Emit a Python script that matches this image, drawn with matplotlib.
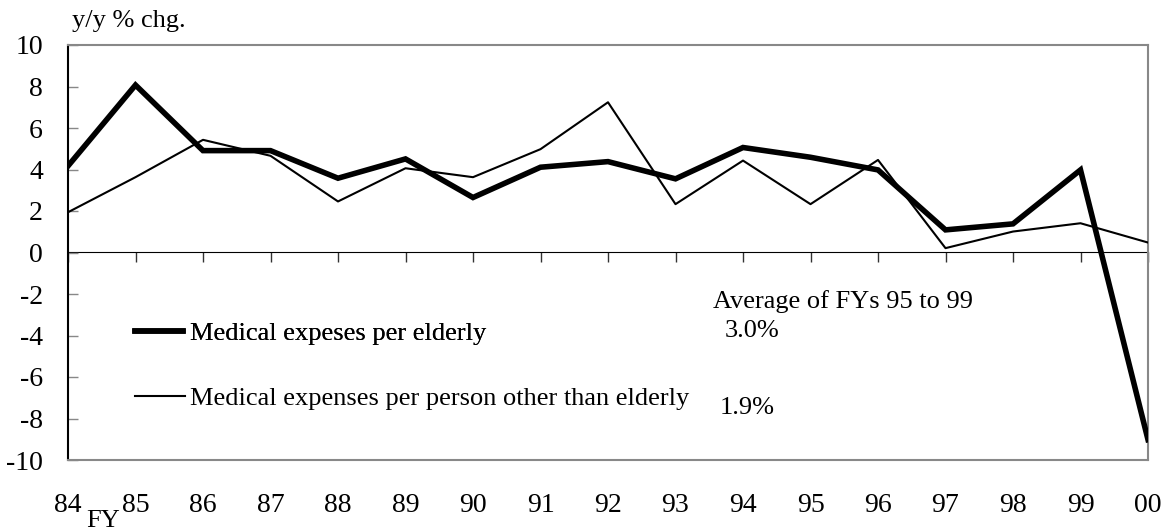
import matplotlib
matplotlib.use("Agg")
import matplotlib.pyplot as plt
from matplotlib.lines import Line2D

plt.rcParams['font.family'] = ['Liberation Serif', 'DejaVu Serif']
plt.rcParams['axes.unicode_minus'] = False

# Fiscal years and y/y % change
years = ["84", "85", "86", "87", "88", "89", "90", "91", "92",
         "93", "94", "95", "96", "97", "98", "99", "00"]
elderly = [4.17, 8.07, 4.91, 4.91, 3.58, 4.51, 2.65, 4.11, 4.38,
           3.55, 5.06, 4.59, 3.98, 1.09, 1.38, 3.98, -9.02]
others = [1.94, 3.63, 5.43, 4.66, 2.46, 4.06, 3.63, 4.98, 7.24,
          2.33, 4.43, 2.33, 4.46, 0.21, 1.01, 1.41, 0.48]
y_ticks = [10, 8, 6, 4, 2, 0, -2, -4, -6, -8, -10]
avg_elderly = "3.0%"
avg_others = "1.9%"

W, H = 1172, 532
fig = plt.figure(figsize=(W / 100, H / 100), dpi=100)
ax = fig.add_axes([68 / W, 1 - 460 / H, 1080 / W, 415 / H])

x = list(range(len(years)))
ax.plot(x, others, color="black", lw=1.5, zorder=3)
ax.plot(x, elderly, color="black", lw=4, solid_joinstyle="miter", zorder=4)

ax.set_xlim(0, len(years) - 1)
ax.set_ylim(-10, 10)

# frame
for side in ["top", "right", "bottom"]:
    ax.spines[side].set_color("#888888")
    ax.spines[side].set_linewidth(1.5)
ax.spines["left"].set_color("black")
ax.spines["left"].set_linewidth(1.5)

ax.set_yticks(y_ticks)
ax.set_yticklabels([str(v) for v in y_ticks])
ax.tick_params(axis="y", direction="in", length=7, width=1, color="#888888",
               labelsize=20, pad=18)

ax.set_xticks(x)
ax.set_xticklabels(years)
ax.tick_params(axis="x", length=0, labelsize=20, pad=24)

# zero line with tick marks pointing up
zero = ax.secondary_xaxis(0.5)
zero.set_xticks(x)
zero.tick_params(axis="x", direction="in", length=7, width=1, color="#333333",
                 labelbottom=False, labeltop=False)
zero.spines["bottom"].set_color("black")
zero.spines["bottom"].set_linewidth(1.5)

fig.text(72 / W, 1 - 21 / H, "y/y % chg.", fontsize=19, ha="left", va="center")
fig.text(103 / W, 1 - 521 / H, "FY", fontsize=19, ha="center", va="center")

# legends placed separately
leg1 = fig.legend(handles=[Line2D([], [], color="black", lw=4)],
                  labels=["Medical expeses per elderly"],
                  loc="center left", bbox_to_anchor=(135 / W, 1 - 333 / H),
                  frameon=False, fontsize=19, borderpad=0, borderaxespad=0,
                  handlelength=1.82, handletextpad=0.27)
fig.add_artist(leg1)
fig.legend(handles=[Line2D([], [], color="black", lw=1.5)],
           labels=["Medical expenses per person other than elderly"],
           loc="center left", bbox_to_anchor=(135 / W, 1 - 398 / H),
           frameon=False, fontsize=19, borderpad=0, borderaxespad=0,
           handlelength=1.89, handletextpad=0.19)

fig.text(713 / W, 1 - 302 / H, "Average of FYs 95 to 99", fontsize=19,
         ha="left", va="center")
fig.text(725 / W, 1 - 331 / H, avg_elderly, fontsize=19, ha="left", va="center")
fig.text(720 / W, 1 - 408 / H, avg_others, fontsize=19, ha="left", va="center")

fig.savefig("out.png", dpi=100)
plt.close(fig)
